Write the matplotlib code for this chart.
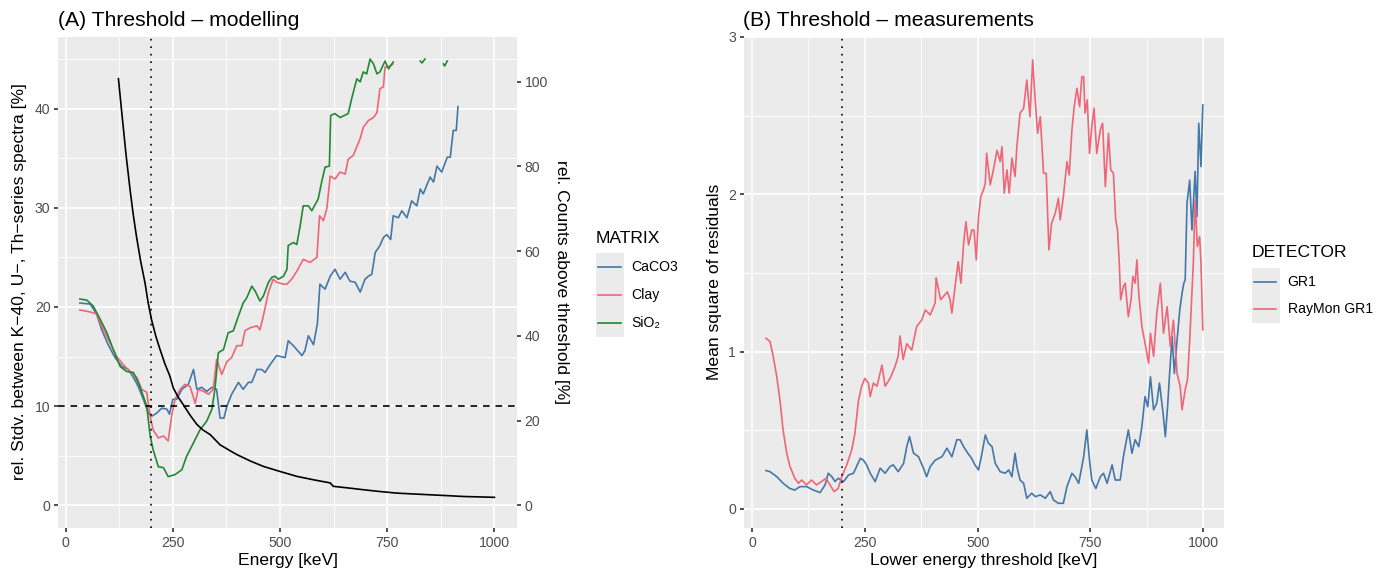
import numpy as np
import matplotlib
matplotlib.use("Agg")
import matplotlib.pyplot as plt
from matplotlib.lines import Line2D
from matplotlib.patches import Rectangle

plt.rcParams['font.family'] = ['Liberation Sans', 'DejaVu Sans']

nan = np.nan

# ---- panel A : modelling ----
caco3_e = [33, 57, 72, 84, 99, 115, 131, 146, 158, 169, 181, 193, 201, 212, 224, 236, 242, 250, 259, 271,
           286, 298, 306, 317, 329, 341, 352, 360, 369, 376, 387, 403, 414, 426, 434, 446, 457, 465, 477, 492,
           512, 519, 531, 551, 558, 566, 578, 587, 593, 605, 617, 628, 640, 652, 663, 675, 687, 698, 706, 714,
           722, 733, 741, 749, 758, 764, 776, 784, 796, 807, 819, 827, 834, 850, 858, 866, 877, 890, 897, 904,
           911, 915]
caco3_v = [20.4, 20.3, 19.3, 17.7, 16.2, 14.9, 14.0, 13.7, 12.9, 12.0, 10.7, 9.3, 9.0, 9.3, 9.8, 9.7, 9.2, 10.7, 10.7, 11.7,
           12.2, 13.7, 11.7, 11.9, 11.5, 11.9, 11.7, 8.8, 8.8, 10.0, 11.2, 12.4, 11.7, 12.4, 12.4, 13.7, 13.7, 13.4, 14.2, 15.1,
           14.9, 16.6, 16.1, 15.1, 15.6, 17.1, 16.2, 18.3, 22.3, 21.8, 23.1, 23.8, 22.8, 23.5, 22.6, 22.5, 21.5, 22.8, 23.1, 23.3,
           25.5, 26.2, 27.0, 27.3, 26.8, 29.2, 29.0, 29.7, 29.0, 30.7, 30.2, 31.9, 31.4, 33.1, 32.6, 34.2, 33.6, 35.1, 35.1, 37.8,
           37.8, 40.2]

clay_e = [33, 57, 72, 88, 103, 119, 134, 150, 166, 177, 189, 197, 204, 216, 228, 239, 247, 255, 267, 278,
          290, 302, 309, 321, 333, 344, 352, 364, 376, 387, 399, 411, 418, 430, 446, 453, 461, 473, 484, 492,
          508, 516, 527, 539, 554, 570, 586, 592, 601, 609, 617, 628, 640, 652, 659, 671, 687, 694, 706, 718,
          726, 733, 741, 745, 753, 763]
clay_v = [19.7, 19.5, 19.3, 17.7, 16.4, 15.0, 14.2, 13.5, 12.9, 11.7, 11.4, 9.0, 7.6, 6.8, 7.0, 6.5, 9.0, 10.7, 11.7, 12.2,
          12.0, 10.3, 11.7, 11.5, 11.2, 11.7, 14.7, 13.2, 14.5, 14.9, 16.1, 16.1, 17.6, 17.9, 18.1, 17.7, 19.1, 21.5, 22.8, 22.5,
          22.3, 22.3, 22.8, 23.6, 24.8, 24.5, 25.0, 29.2, 28.7, 29.9, 33.2, 32.9, 33.6, 33.4, 34.9, 35.3, 37.0, 38.1, 38.8, 39.1,
          39.6, 42.0, 42.2, 44.2, 44.2, 44.5]

sio2_e = [33, 49, 64, 80, 96, 111, 127, 142, 158, 173, 189, 197, 204, 216, 228, 239, 255, 271, 282, 298,
          313, 329, 341, 348, 356, 368, 379, 391, 403, 414, 422, 434, 442, 453, 461, 473, 481, 488, 496, 508,
          516, 519, 531, 539, 547, 554, 566, 574, 589, 597, 605, 615, 618, 628, 640, 659, 667, 679, 687, 694,
          702, 710, 718, 726, 733, 745, 753, 764, 795, 827, 831, 838, 860, 881, 884, 890]
sio2_v = [20.8, 20.7, 20.1, 18.8, 17.4, 15.7, 14.0, 13.5, 13.4, 12.0, 10.0, 7.0, 5.6, 3.9, 3.8, 2.9, 3.1, 3.6, 4.95, 6.3,
          7.6, 8.5, 9.7, 11.7, 15.4, 15.7, 17.4, 17.6, 19.1, 20.4, 20.9, 22.1, 21.6, 20.6, 21.1, 22.5, 23.0, 23.1, 22.8, 23.1,
          23.8, 26.2, 26.5, 26.3, 28.2, 30.2, 30.2, 29.7, 30.9, 32.6, 34.1, 34.2, 39.3, 39.5, 39.1, 39.5, 41.0, 43.0, 42.7, 43.7,
          43.5, 45.0, 44.5, 43.5, 43.7, 44.8, 44.0, 44.7, nan, 44.8, 44.6, 45.0, nan, 44.5, 44.3, 44.8]

counts_e = [123, 128, 134, 141, 150, 157, 165, 175, 185, 192, 200, 210, 220, 231, 243, 251, 262, 274, 290, 306,
            320, 337, 360, 380, 399, 430, 461, 500, 539, 580, 617, 624, 660, 694, 730, 772, 810, 850, 890, 927, 965, 1000]
counts_v = [100.7, 95.5, 89.5, 82.5, 74.6, 69.0, 63.5, 57.5, 52.5, 48.0, 43.9, 40.0, 36.8, 33.5, 30.5, 27.7, 25.6, 23.8, 21.3, 19.1,
            17.8, 16.7, 14.3, 13.1, 12.0, 10.5, 9.2, 8.0, 6.85, 6.0, 5.3, 4.5, 4.1, 3.7, 3.3, 2.9, 2.7, 2.5, 2.3, 2.1, 2.0, 1.9]

# ---- panel B : measurements ----
raymon_e = [31, 40, 47, 55, 62, 69, 77, 84, 95, 103, 110, 121, 132, 143, 154, 164, 173, 182, 191, 199,
            210, 221, 228, 236, 243, 250, 258, 262, 269, 277, 288, 295, 306, 317, 324, 328, 335, 343, 354, 365,
            376, 384, 395, 406, 408, 418, 433, 439, 443, 450, 457, 463, 469, 474, 480, 487, 492, 497, 502, 507,
            513, 517, 520, 528, 535, 543, 550, 554, 559, 565, 570, 576, 583, 587, 594, 602, 609, 616, 622, 627,
            633, 639, 646, 652, 658, 664, 672, 679, 683, 690, 698, 703, 709, 714, 720, 726, 731, 735, 738, 743,
            748, 753, 758, 764, 772, 777, 783, 790, 795, 801, 806, 810, 814, 817, 823, 827, 834, 840, 844, 849,
            853, 857, 864, 871, 879, 883, 890, 897, 905, 912, 920, 927, 934, 942, 949, 953, 960, 965, 970, 975,
            978, 982, 987, 992, 995, 999]
raymon_v = [1.085, 1.064, 0.97, 0.84, 0.69, 0.50, 0.354, 0.27, 0.195, 0.163, 0.184, 0.153, 0.184, 0.153, 0.174, 0.195, 0.153, 0.11, 0.13, 0.205,
            0.28, 0.375, 0.48, 0.69, 0.78, 0.83, 0.80, 0.714, 0.80, 0.78, 0.915, 0.78, 0.83, 0.905, 0.97, 1.10, 0.95, 1.05, 1.01, 1.16,
            1.20, 1.265, 1.233, 1.31, 1.47, 1.33, 1.38, 1.33, 1.244, 1.413, 1.572, 1.435, 1.69, 1.826, 1.678, 1.773, 1.773, 1.583, 1.858, 1.985,
            2.028, 2.07, 2.261, 2.06, 2.155, 2.28, 2.208, 2.303, 2.007, 2.155, 2.007, 2.23, 2.113, 2.303, 2.516, 2.547, 2.727, 2.494, 2.854, 2.62,
            2.388, 2.494, 2.134, 2.134, 1.647, 1.816, 1.88, 1.975, 1.837, 1.985, 2.208, 2.123, 2.41, 2.557, 2.674, 2.557, 2.748, 2.748, 2.516, 2.6,
            2.26, 2.43, 2.547, 2.26, 2.41, 2.452, 2.049, 2.388, 2.155, 2.134, 1.837, 1.773, 1.56, 1.33, 1.413, 1.435, 1.222, 1.33, 1.478, 1.435,
            1.583, 1.371, 1.16, 1.053, 0.926, 1.117, 0.97, 1.244, 1.435, 1.117, 1.286, 1.032, 1.2, 0.862, 0.778, 0.63, 0.757, 0.82, 1.074, 1.371,
            1.562, 1.964, 1.668, 1.732, 1.562, 1.138]

gr1_e = [31, 40, 55, 69, 84, 95, 106, 121, 136, 151, 162, 169, 177, 184, 191, 203, 214, 225, 240, 247,
         254, 262, 273, 284, 295, 306, 313, 324, 336, 343, 349, 358, 369, 380, 387, 395, 406, 421, 432, 443,
         454, 461, 469, 476, 487, 494, 502, 509, 517, 524, 532, 539, 550, 561, 569, 576, 583, 587, 594, 602,
         609, 620, 628, 639, 650, 661, 668, 679, 690, 698, 709, 716, 724, 735, 742, 748, 753, 762, 772, 779,
         787, 798, 805, 816, 823, 834, 842, 849, 857, 864, 871, 877, 883, 890, 897, 903, 911, 916, 921, 925,
         931, 936, 942, 948, 953, 957, 960, 964, 970, 975, 982, 986, 990, 995, 999]
gr1_v = [0.244, 0.237, 0.205, 0.163, 0.13, 0.12, 0.142, 0.142, 0.12, 0.104, 0.153, 0.227, 0.205, 0.174, 0.195, 0.174, 0.216, 0.227, 0.322, 0.31,
         0.28, 0.227, 0.174, 0.259, 0.227, 0.27, 0.28, 0.237, 0.29, 0.396, 0.46, 0.354, 0.332, 0.259, 0.205, 0.27, 0.31, 0.332, 0.386, 0.332,
         0.44, 0.44, 0.396, 0.364, 0.32, 0.28, 0.248, 0.343, 0.47, 0.418, 0.396, 0.29, 0.237, 0.227, 0.248, 0.205, 0.354, 0.27, 0.184, 0.163,
         0.068, 0.1, 0.078, 0.089, 0.068, 0.11, 0.057, 0.036, 0.036, 0.142, 0.227, 0.205, 0.163, 0.332, 0.502, 0.31, 0.184, 0.13, 0.205, 0.227,
         0.163, 0.28, 0.184, 0.184, 0.332, 0.502, 0.354, 0.44, 0.396, 0.523, 0.714, 0.65, 0.84, 0.63, 0.672, 0.80, 0.608, 0.46, 0.65, 0.84,
         1.095, 0.862, 1.074, 1.265, 1.371, 1.435, 1.456, 1.943, 2.09, 1.773, 2.145, 1.858, 2.452, 2.176, 2.568]

blue, red, green = '#4477AA', '#EE6677', '#228833'
count_scale = 0.4272   # left axis units per % counts (secondary axis)

W, H = 1390, 574
fig = plt.figure(figsize=(13.9, 5.74), dpi=100)

fs_tick, fs_lab, fs_title = 10.1, 12.6, 15.2
lw = 1.2


def box(l, t, r, b):
    return [l / W, 1 - b / H, (r - l) / W, (b - t) / H]


def gg(ax):
    ax.set_facecolor('#EBEBEB')
    for s in ax.spines.values():
        s.set_visible(False)
    ax.grid(which='major', color='white', lw=1.2)
    ax.grid(which='minor', color='white', lw=0.6)
    ax.set_axisbelow(True)
    ax.tick_params(which='major', length=3.2, width=1.2, color='#333333',
                   labelsize=fs_tick, labelcolor='#4D4D4D', pad=2.5)
    ax.tick_params(which='minor', length=0)


# panel A
axA = fig.add_axes(box(58.3, 36.7, 516.7, 527.7))
gg(axA)
axA.set_xlim(-17.3, 1052)
axA.set_ylim(-2.25, 47.25)
axA.set_xticks([0, 250, 500, 750, 1000])
axA.set_xticks([125, 375, 625, 875], minor=True)
axA.set_yticks([0, 10, 20, 30, 40])
axA.set_yticks([5, 15, 25, 35, 45], minor=True)
axA.plot(caco3_e, caco3_v, color=blue, lw=lw)
axA.plot(clay_e, clay_v, color=red, lw=lw)
axA.plot(sio2_e, sio2_v, color=green, lw=lw)
axA.axhline(10, color='black', lw=lw, ls=(0, (4, 3.5)))
axA.axvline(200, color='black', lw=lw, ls=(0, (1, 3.5)))

axA2 = axA.twinx()
axA2.patch.set_visible(False)
for s in axA2.spines.values():
    s.set_visible(False)
axA2.set_ylim(-2.25 / count_scale, 47.25 / count_scale)
axA2.set_yticks([0, 20, 40, 60, 80, 100])
axA2.tick_params(axis='y', length=3.2, width=1.2, color='#333333',
                 labelsize=fs_tick, labelcolor='#4D4D4D', pad=2.5)
axA2.plot(counts_e, counts_v, color='black', lw=lw)

# panel B
axB = fig.add_axes(box(744, 37, 1224, 528.3))
gg(axB)
axB.set_xlim(-17.7, 1046)
axB.set_ylim(-0.123, 3.0)
axB.set_xticks([0, 250, 500, 750, 1000])
axB.set_xticks([125, 375, 625, 875], minor=True)
axB.set_yticks([0, 1, 2, 3])
axB.set_yticks([0.5, 1.5, 2.5], minor=True)
axB.plot(gr1_e, gr1_v, color=blue, lw=lw)
axB.plot(raymon_e, raymon_v, color=red, lw=lw)
axB.axvline(200, color='black', lw=lw, ls=(0, (1, 3.5)))

# titles and axis labels
fig.text(58 / W, 1 - 25.5 / H, '(A) Threshold \u2013 modelling', fontsize=fs_title, va='baseline')
fig.text(743 / W, 1 - 25.5 / H, '(B) Threshold \u2013 measurements', fontsize=fs_title, va='baseline')
fig.text(287.5 / W, 1 - 561 / H, 'Energy [keV]', fontsize=fs_lab, ha='center', va='center')
fig.text(984 / W, 1 - 561 / H, 'Lower energy threshold [keV]', fontsize=fs_lab, ha='center', va='center')
fig.text(20 / W, 1 - 282 / H, 'rel. Stdv. between K\u221240, U\u2212, Th\u2212series spectra [%]',
         fontsize=fs_lab, rotation=90, ha='center', va='center')
fig.text(561 / W, 1 - 282 / H, 'rel. Counts above threshold [%]',
         fontsize=fs_lab, rotation=-90, ha='center', va='center')
fig.text(714 / W, 1 - 282 / H, 'Mean square of residuals',
         fontsize=fs_lab, rotation=90, ha='center', va='center')


# legends
def legend(x0, title_base, top, labels, colors, text_x):
    fig.text(x0 / W, 1 - title_base / H, labels[0], fontsize=fs_lab, va='baseline')
    n = len(labels) - 1
    fig.add_artist(Rectangle((x0 / W, 1 - (top + 27.8 * n) / H), 28 / W, 27.8 * n / H,
                             transform=fig.transFigure, color='#EBEBEB', lw=0))
    for i, (lab, c) in enumerate(zip(labels[1:], colors)):
        yc = top + 27.8 * (i + 0.5)
        fig.add_artist(Line2D([(x0 + 2.3) / W, (x0 + 24.7) / W], [1 - yc / H, 1 - yc / H],
                              transform=fig.transFigure, color=c, lw=lw))
        fig.text(text_x / W, 1 - yc / H, lab, fontsize=fs_tick, va='center')


legend(596, 242.7, 253.3, ['MATRIX', 'CaCO3', 'Clay', 'SiO\u2082'], [blue, red, green], 631.7)
legend(1251.7, 257.3, 267.7, ['DETECTOR', 'GR1', 'RayMon GR1'], [blue, red], 1287.5)

fig.savefig('out.png', dpi=100)
